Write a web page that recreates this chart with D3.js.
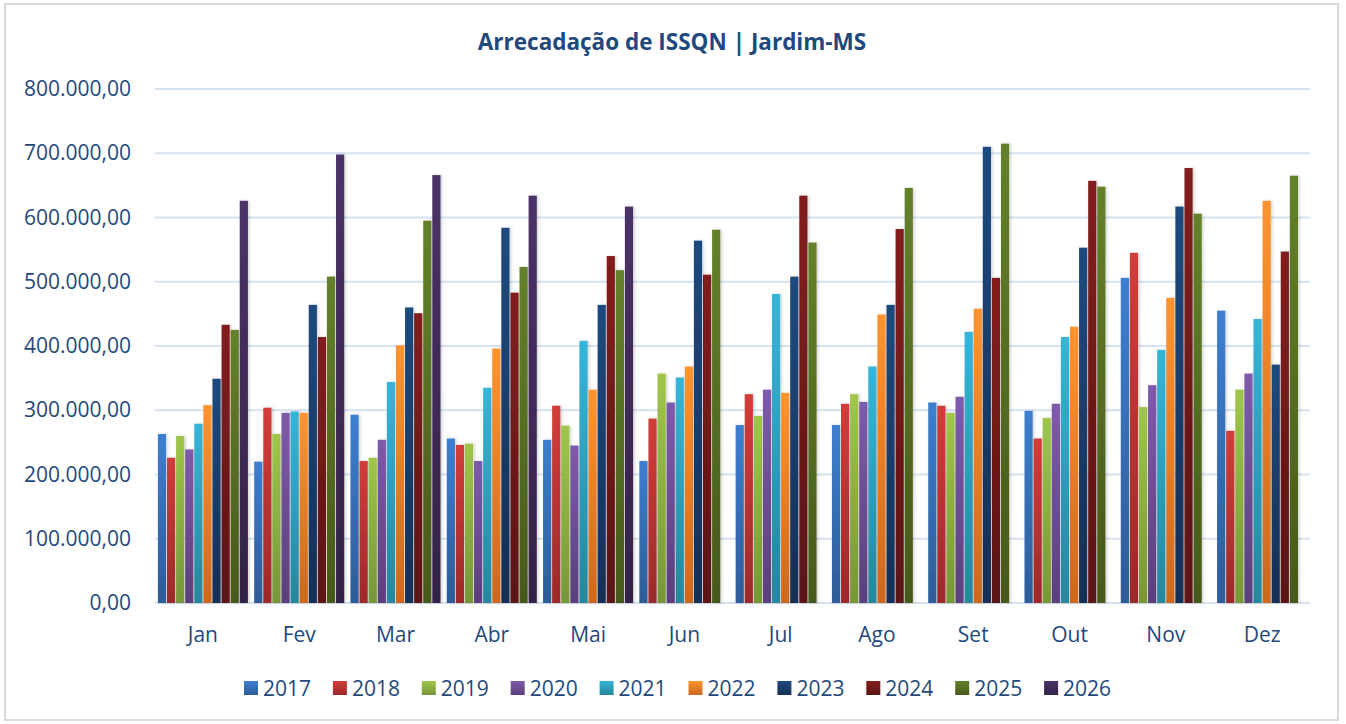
<!DOCTYPE html>
<html>
<head>
<meta charset="utf-8">
<script src="https://cdn.jsdelivr.net/npm/d3@7"></script>
<style>
  body { margin: 0; background: #fff; }
  svg { display: block; font-family: 'Open Sans', sans-serif; }
</style>
</head>
<body>
<svg id="chart"></svg>
<script>
const months = ['Jan', 'Fev', 'Mar', 'Abr', 'Mai', 'Jun', 'Jul', 'Ago', 'Set', 'Out', 'Nov', 'Dez']
const years = ['2017', '2018', '2019', '2020', '2021', '2022', '2023', '2024', '2025', '2026']

const v2017 = [263000, 220000, 293000, 256000, 254000, 221000, 277000, 277000, 312000, 299000, 506000, 455000]
const v2018 = [226000, 304000, 221000, 246000, 307000, 287000, 325000, 310000, 307000, 256000, 545000, 268000]
const v2019 = [260000, 263000, 226000, 248000, 276000, 357000, 291000, 325000, 296000, 288000, 305000, 332000]
const v2020 = [239000, 296000, 254000, 221000, 245000, 312000, 332000, 313000, 321000, 310000, 339000, 357000]
const v2021 = [279000, 298000, 344000, 335000, 408000, 351000, 481000, 368000, 422000, 414000, 394000, 442000]
const v2022 = [308000, 296000, 401000, 396000, 332000, 368000, 327000, 449000, 458000, 430000, 475000, 626000]
const v2023 = [349000, 464000, 460000, 584000, 464000, 564000, 508000, 464000, 710000, 553000, 617000, 371000]
const v2024 = [433000, 414000, 451000, 483000, 540000, 511000, 634000, 582000, 506000, 657000, 677000, 547000]
const v2025 = [425000, 508000, 595000, 523000, 518000, 581000, 561000, 646000, 715000, 648000, 606000, 665000]
const v2026 = [626000, 698000, 666000, 634000, 617000, null, null, null, null, null, null, null]

const seriesValues = [v2017, v2018, v2019, v2020, v2021, v2022, v2023, v2024, v2025, v2026]
const yTicks = [0, 100000, 200000, 300000, 400000, 500000, 600000, 700000, 800000]

const colorsTop = ['#3d7fd0', '#d23d3a', '#9fc64a', '#7e5bab', '#36b5d9', '#ff942f', '#1f4a7e', '#831f1e', '#64812a', '#4b3268']
const colorsBottom = ['#2d5c98', '#9c2a2a', '#779638', '#5b3f7c', '#25879d', '#cd681e', '#152f56', '#5b1413', '#46591b', '#332346']

const width = 1346
const height = 724
const textColor = '#1f497d'
const fontSize = 21

const svg = d3.select('#chart')
  .attr('width', width)
  .attr('height', height)

const defs = svg.append('defs')
years.forEach((y, i) => {
  const grad = defs.append('linearGradient')
    .attr('id', 'grad' + y)
    .attr('x1', 0).attr('y1', 0)
    .attr('x2', 0).attr('y2', 1)
  grad.append('stop').attr('offset', '0%').attr('stop-color', colorsTop[i])
  grad.append('stop').attr('offset', '100%').attr('stop-color', colorsBottom[i])
})
const shadow = defs.append('filter')
  .attr('id', 'shadow')
  .attr('x', '-50%').attr('y', '-10%')
  .attr('width', '200%').attr('height', '120%')
shadow.append('feDropShadow')
  .attr('dx', 1.5).attr('dy', 0)
  .attr('stdDeviation', 1.8)
  .attr('flood-color', '#000')
  .attr('flood-opacity', 0.18)

// chart border
svg.append('rect')
  .attr('x', 5).attr('y', 4)
  .attr('width', 1333).attr('height', 716)
  .attr('fill', '#fff')
  .attr('stroke', '#d9d9d9')
  .attr('stroke-width', 2)

svg.append('text')
  .attr('x', 672)
  .attr('y', 50)
  .attr('text-anchor', 'middle')
  .attr('font-size', 22.5)
  .attr('font-weight', 'bold')
  .attr('fill', textColor)
  .text('Arrecadação de ISSQN | Jardim-MS')

const x0 = d3.scaleBand()
  .domain(months)
  .range([155, 1310])
  .paddingInner(0.065)
  .paddingOuter(0.03)

const x1 = d3.scaleBand()
  .domain(years)
  .range([0, x0.bandwidth()])
  .paddingInner(0.1)

const y = d3.scaleLinear()
  .domain([0, 800000])
  .range([603, 89])

const locale = d3.formatLocale({ decimal: ',', thousands: '.', grouping: [3], currency: ['R$', ''] })
const fmt = locale.format(',.2f')

// grid
svg.append('g')
  .classed('grid', true)
  .selectAll('line')
  .data(yTicks)
  .enter()
  .append('line')
  .attr('x1', 155)
  .attr('x2', 1310)
  .attr('y1', (d) => y(d))
  .attr('y2', (d) => y(d))
  .attr('stroke', '#d6e1f1')
  .attr('stroke-width', 2)

const yAxis = d3.axisLeft(y)
  .tickValues(yTicks)
  .tickFormat(fmt)
  .tickSize(0)
  .tickPadding(0)
svg.append('g')
  .attr('transform', 'translate(131,0)')
  .call(yAxis)
  .call((g) => g.select('.domain').remove())
  .selectAll('text')
  .attr('font-size', fontSize)
  .attr('font-family', "'Open Sans', sans-serif")
  .attr('fill', textColor)

const xAxis = d3.axisBottom(x0)
  .tickSize(0)
  .tickPadding(0)
svg.append('g')
  .attr('transform', 'translate(0,627)')
  .call(xAxis)
  .call((g) => g.select('.domain').remove())
  .selectAll('text')
  .attr('font-size', fontSize)
  .attr('font-family', "'Open Sans', sans-serif")
  .attr('fill', textColor)

// bars
const groups = svg.append('g')
  .classed('bars', true)
  .selectAll('g.month')
  .data(months)
  .enter()
  .append('g')
  .classed('month', true)
  .attr('transform', (m) => 'translate(' + x0(m) + ',0)')

groups.selectAll('rect')
  .data((m, mi) => years.map((yr, si) => ({ year: yr, value: seriesValues[si][mi] })).filter((d) => d.value !== null))
  .enter()
  .append('rect')
  .attr('x', (d) => x1(d.year))
  .attr('y', (d) => y(d.value))
  .attr('width', x1.bandwidth())
  .attr('height', (d) => y(0) - y(d.value))
  .attr('fill', (d) => 'url(#grad' + d.year + ')')
  .attr('filter', 'url(#shadow)')

// legend
const legend = svg.append('g')
  .classed('legend', true)
  .selectAll('g')
  .data(years)
  .enter()
  .append('g')
  .attr('transform', (d, i) => 'translate(' + (244 + i * 88.9) + ',681)')
legend.append('rect')
  .attr('width', 14)
  .attr('height', 14)
  .attr('fill', (d) => 'url(#grad' + d + ')')
legend.append('text')
  .attr('x', 19)
  .attr('y', 14.5)
  .attr('font-size', fontSize)
  .attr('fill', textColor)
  .text((d) => d)
</script>
</body>
</html>
